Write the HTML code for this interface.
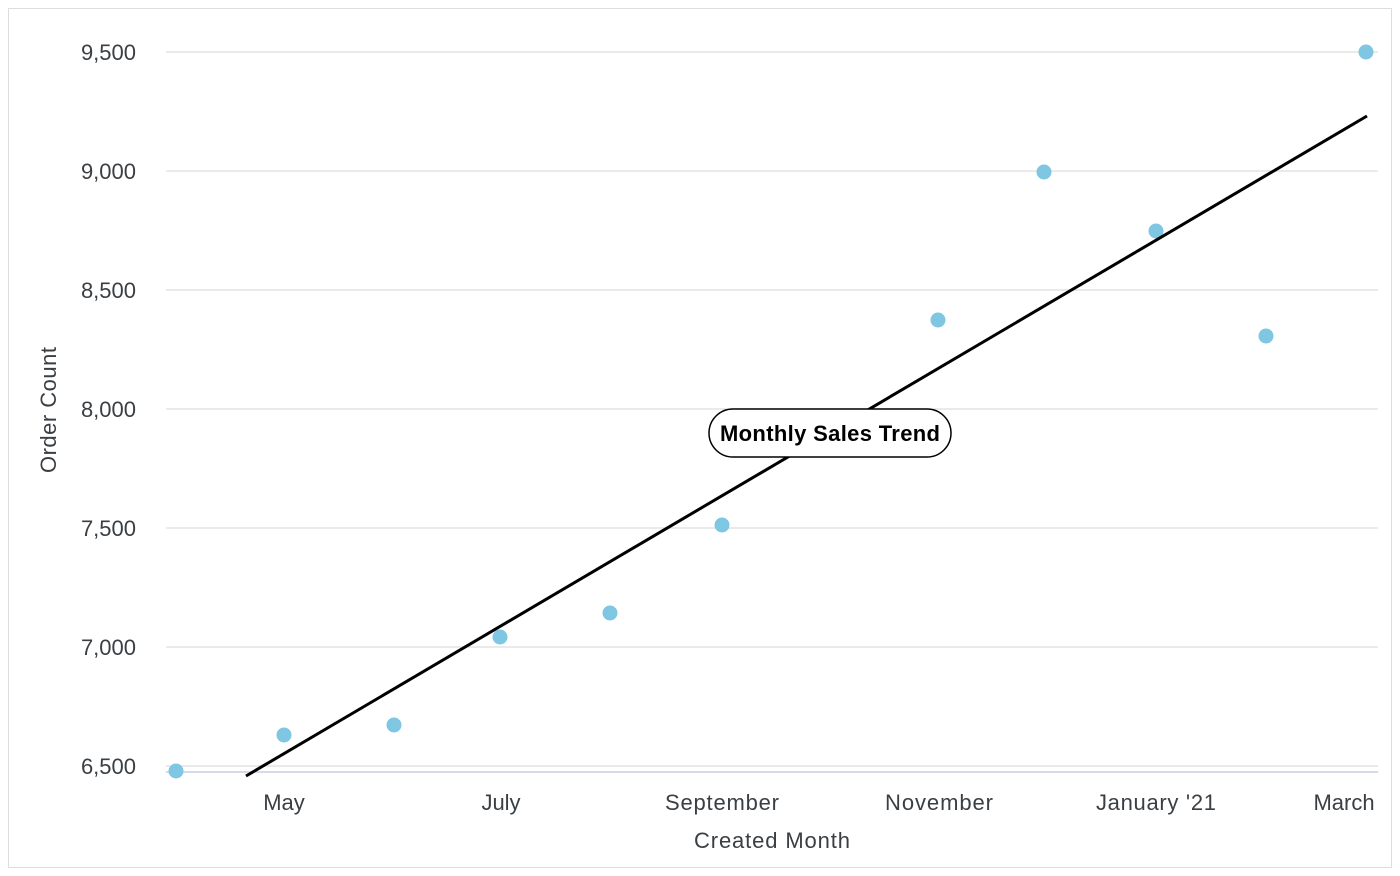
<!DOCTYPE html>
<html><head><style>
body{margin:0;background:#fff;}
svg{display:block;font-family:"Liberation Sans",sans-serif;}
</style></head><body>
<svg width="1400" height="876" xmlns="http://www.w3.org/2000/svg">
<rect x="8.5" y="8.5" width="1383" height="859" fill="#fff" stroke="#ddd"/>
<g stroke="#e3e3e3" stroke-width="1.5">
<line x1="166" x2="1378" y1="52" y2="52"/>
<line x1="166" x2="1378" y1="171" y2="171"/>
<line x1="166" x2="1378" y1="290" y2="290"/>
<line x1="166" x2="1378" y1="409" y2="409"/>
<line x1="166" x2="1378" y1="528" y2="528"/>
<line x1="166" x2="1378" y1="647" y2="647"/>
<line x1="166" x2="1378" y1="766" y2="766"/>
</g>
<line x1="166" x2="1378" y1="772" y2="772" stroke="#c8cde0" stroke-width="1.5"/>
<g font-size="22" fill="#3a3f44" text-anchor="end">
<text x="136" y="60">9,500</text>
<text x="136" y="179">9,000</text>
<text x="136" y="298">8,500</text>
<text x="136" y="417">8,000</text>
<text x="136" y="536">7,500</text>
<text x="136" y="655">7,000</text>
<text x="136" y="774">6,500</text>
</g>
<g font-size="22" fill="#3a3f44" text-anchor="middle">
<text x="284" y="810">May</text>
<text x="501" y="810">July</text>
<text x="722" y="810" textLength="114">September</text>
<text x="939" y="810" textLength="108">November</text>
<text x="1156" y="810" textLength="120">January '21</text>
<text x="1344" y="810">March</text>
<text x="772" y="848" textLength="156">Created Month</text>
<text transform="translate(56,410) rotate(-90)" textLength="126">Order Count</text>
</g>
<g fill="#7ec6e2">
<circle cx="176" cy="771" r="7.5"/>
<circle cx="284" cy="735" r="7.5"/>
<circle cx="394" cy="725" r="7.5"/>
<circle cx="500" cy="637" r="7.5"/>
<circle cx="610" cy="613" r="7.5"/>
<circle cx="722" cy="525" r="7.5"/>
<circle cx="938" cy="320" r="7.5"/>
<circle cx="1044" cy="172" r="7.5"/>
<circle cx="1156" cy="231" r="7.5"/>
<circle cx="1266" cy="336" r="7.5"/>
<circle cx="1366" cy="52" r="7.5"/>
</g>
<line x1="246" y1="776" x2="1367" y2="116" stroke="#000" stroke-width="3"/>
<rect x="709" y="409" width="242" height="48" rx="24" fill="#fff" stroke="#000" stroke-width="1.5"/>
<text x="830" y="441" font-size="22" font-weight="bold" text-anchor="middle" fill="#000" textLength="220">Monthly Sales Trend</text>
</svg>
</body></html>
